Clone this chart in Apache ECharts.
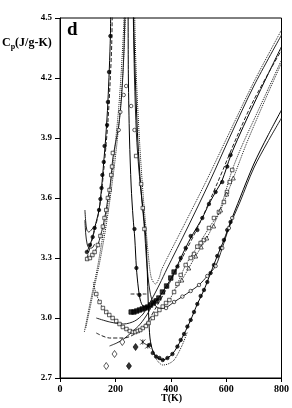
<!DOCTYPE html>
<html><head><meta charset="utf-8">
<script src="https://cdn.jsdelivr.net/npm/echarts@6/dist/echarts.min.js"></script>
<style>html,body{margin:0;padding:0;background:#fff}#c{width:292px;height:408px}</style>
</head><body><div id="c"></div>
<script>
// ---- data (T in K, Cp in J/g-K) ----
const xTicks = [0, 200, 400, 600, 800];
const yTicks = [2.7, 3.0, 3.3, 3.6, 3.9, 4.2, 4.5];

// series A: filled circles, solid fit
const A_dots = [[97,3.33],[108,3.365],[118,3.405],[125,3.45],[141,3.54],[146,3.595],[150,3.65],[153,3.715],[158,3.78],[161,3.86],[170,3.965],[173,4.08],[177,4.23],[182,4.41],[269,3.445],[276,3.25],[287,3.115],[424,3.257],[436,3.3],[454,3.35],[472,3.41],[496,3.44],[514,3.5],[538,3.57],[562,3.63],[586,3.68],[604,3.757],[616,3.815]];
const A_fit = [[97,3.33],[108,3.365],[118,3.405],[125,3.45],[141,3.54],[150,3.65],[158,3.78],[165,3.9],[173,4.08],[182,4.41],[187,4.9],[243,4.9],[247,4.2],[251,3.9],[257,3.66],[264,3.5],[270,3.4],[276,3.25],[283,3.15],[290,3.09],[300,3.06],[320,3.055],[350,3.09],[380,3.15],[410,3.22],[436,3.3],[472,3.4],[514,3.5],[538,3.57],[562,3.63],[586,3.69],[616,3.81],[650,3.92],[700,4.07],[750,4.215],[800,4.357]];
const A_fit2 = [[97,3.30],[110,3.36],[125,3.44],[140,3.53],[150,3.63],[158,3.74],[166,3.86],[173,3.98],[180,4.15],[187,4.38],[192,4.9]];
// filled squares band
const F_sq = [[257,3.03],[267,3.03],[277,3.035],[287,3.04],[297,3.045],[307,3.05],[317,3.055],[327,3.065],[337,3.075],[347,3.085],[357,3.1],[370,3.13],[385,3.16],[400,3.2],[412,3.23]];

// series B: open squares / open circles
const B_sqL = [[98,3.295],[108,3.3],[117,3.315],[125,3.33],[137,3.365],[146,3.41],[155,3.457],[161,3.5],[167,3.54],[173,3.6],[179,3.64],[185,3.715],[188,3.757],[191,3.825]];
const B_circ = [[212,3.94],[218,4.03],[230,4.115],[239,4.16],[257,4.06],[269,3.94],[383,3.05],[412,3.08],[442,3.107],[472,3.135],[502,3.165],[532,3.21],[562,3.26],[586,3.35],[610,3.45],[622,3.5]];
const B_sqR = [[275,3.81],[293,3.67],[299,3.55],[305,3.445]];
const B_fit = [[92,3.29],[98,3.295],[108,3.3],[125,3.33],[137,3.365],[146,3.41],[155,3.457],[161,3.5],[167,3.54],[173,3.6],[179,3.64],[185,3.715],[191,3.8],[200,3.87],[212,3.96],[222,4.1],[230,4.3],[236,4.6],[240,4.9],[262,4.9],[265,4.5],[269,4.2],[276,3.92],[285,3.74],[295,3.6],[305,3.445],[312,3.3],[320,3.18],[330,3.1],[345,3.06],[362,3.048],[383,3.052],[412,3.08],[442,3.107],[472,3.135],[502,3.165],[532,3.21],[562,3.26],[586,3.35],[610,3.45],[650,3.58],[700,3.75],[750,3.88],[800,4.0]];

// series C: open squares (low hook)
const C_sq = [[131,3.12],[143,3.08],[155,3.05],[167,3.03],[178,3.015],[190,3.0],[203,2.985],[215,2.97],[227,2.955],[240,2.945],[252,2.935],[263,2.93],[272,2.93],[281,2.935],[290,2.94],[299,2.95],[310,2.96],[320,2.975],[335,3.0],[347,3.02],[359,3.04],[371,3.057],[383,3.075],[395,3.09],[412,3.13],[424,3.17],[436,3.215],[454,3.265],[472,3.3],[484,3.32],[496,3.357],[508,3.375],[520,3.39],[538,3.45],[556,3.5],[574,3.53],[592,3.58],[603,3.63],[613,3.68],[622,3.74]];
const C_fit = [[120,3.18],[131,3.12],[155,3.05],[190,3.0],[227,2.955],[263,2.93],[290,2.94],[320,2.975],[347,3.02],[371,3.057],[395,3.09],[424,3.17],[454,3.265],[496,3.357],[538,3.45],[574,3.53],[622,3.74],[660,3.87],[700,3.99],[750,4.14],[800,4.29]];

// open triangles
const T_tri = [[440,3.19],[465,3.25],[490,3.31],[510,3.355],[530,3.40],[555,3.46],[580,3.54],[602,3.62],[626,3.70]];
const T_fit = [[420,3.15],[440,3.19],[490,3.31],[530,3.40],[580,3.54],[626,3.70],[670,3.86],[700,3.96],[750,4.12],[800,4.275]];

// series D: lowest, filled circles, solid fit
const D_dots = [[323,2.865],[335,2.825],[347,2.807],[359,2.8],[371,2.79],[388,2.8],[406,2.82],[424,2.857],[436,2.89],[448,2.92],[460,2.957],[472,2.99],[484,3.03],[496,3.07],[508,3.11],[520,3.14],[532,3.18],[544,3.225],[556,3.265],[568,3.31],[580,3.35],[592,3.39],[604,3.44],[616,3.48]];
const D_fit = [[264,4.9],[266,4.5],[272,4.2],[281,3.89],[292,3.65],[303,3.5],[311,3.38],[316,3.2],[320,3.02],[325,2.9],[335,2.835],[347,2.807],[359,2.795],[371,2.79],[388,2.8],[406,2.82],[424,2.857],[448,2.92],[472,2.99],[496,3.07],[520,3.14],[544,3.225],[568,3.31],[592,3.39],[616,3.48],[650,3.6],[700,3.77],[750,3.91],[800,4.04]];
const D_low = [[335,2.84],[350,2.79],[371,2.765],[390,2.77],[412,2.79],[440,2.86],[460,2.93]];

// other fit curves
const LD1 = [[88,2.93],[105,3.05],[120,3.15],[135,3.25],[150,3.37],[165,3.5],[180,3.64],[192,3.77],[201,3.89],[212,4.05],[222,4.25],[231,4.5],[234,4.9]];
const LD2 = [[93,2.95],[110,3.06],[125,3.16],[142,3.27],[158,3.39],[173,3.52],[187,3.66],[198,3.78],[207,3.89],[218,4.05],[228,4.25],[236,4.5],[239,4.9]];
const U1 = [[268,4.9],[270,4.5],[276,4.2],[287,3.89],[300,3.62],[311,3.44],[320,3.3],[330,3.2],[345,3.17],[358,3.2],[368,3.245],[450,3.47],[530,3.69],[606,3.91],[700,4.18],[800,4.44]];
const U2 = [[131,3.0],[180,2.98],[230,2.97],[270,2.985],[300,3.02],[330,3.09],[360,3.17],[386,3.245],[460,3.45],[540,3.68],[615,3.91],[700,4.16],[800,4.415]];
const U3 = [[131,2.925],[179,2.9],[230,2.9],[270,2.92],[310,2.97],[350,3.06],[390,3.16],[430,3.27],[500,3.46],[570,3.68],[640,3.91],[700,4.09],[800,4.34]];
const DiaFit = [[179,2.86],[205,2.875],[230,2.895],[260,2.93],[290,2.97],[320,3.03],[345,3.1]];
const Hflat = [[255,3.12],[312,3.12]];
const H1 = [[90,3.54],[93,3.48],[97,3.44],[104,3.43],[113,3.44],[125,3.46]];
const H2 = [[90,3.49],[93,3.42],[98,3.37],[105,3.35],[115,3.35],[125,3.37]];

// isolated markers
const Dia_open = [[167,2.76],[197,2.82],[225,2.88]];
const Dia_fill = [[249,2.76],[273,2.855]];
const Cross = [[299,2.88],[317,2.86]];

// ---- chart ----
const FONT = '"Liberation Serif", "DejaVu Serif", serif';
const chart = echarts.init(document.getElementById('c'), null, {renderer: 'canvas'});
function fit(data, type, color) {
  return {type: 'line', data: data, showSymbol: false, symbol: 'none', smooth: 0.3, clip: true,
    lineStyle: {color: color || '#222', width: 1, type: type || 'solid'}, z: 2, silent: true};
}
function pts(data, symbol, size, filled) {
  return {type: 'scatter', data: data, symbol: symbol, symbolSize: size, clip: true,
    itemStyle: {color: filled ? '#000' : '#fff', borderColor: '#000', borderWidth: 0.8}, z: 3, silent: true};
}
const crossPath = 'path://M0,0L10,10M10,0L0,10M5,0L5,10';
chart.setOption({
  animation: false,
  backgroundColor: '#fff',
  grid: {left: 60, top: 18, right: 9, bottom: 30, show: true, borderColor: '#000', borderWidth: 1},
  xAxis: {type: 'value', min: 0, max: 800, interval: 200,
    axisLine: {show: true, lineStyle: {color: '#000', width: 1}},
    axisTick: {show: true, inside: false, length: 4, lineStyle: {color: '#000'}},
    axisLabel: {color: '#000', fontFamily: FONT, fontWeight: 'bold', fontSize: 10, margin: 6,
      formatter: v => xTicks.includes(v) ? String(v) : ''},
    splitLine: {show: false}},
  yAxis: {type: 'value', min: 2.7, max: 4.5, interval: 0.3,
    axisLine: {show: true, lineStyle: {color: '#000', width: 1}},
    axisTick: {show: true, inside: false, length: 5, lineStyle: {color: '#000'}},
    axisLabel: {color: '#000', fontFamily: FONT, fontWeight: 'bold', fontSize: 9, margin: 8,
      formatter: v => v.toFixed(1)},
    splitLine: {show: false}},
  graphic: [
    {type: 'text', left: 67, top: 21, style: {text: 'd', font: 'bold 19px ' + FONT, fill: '#000'}},
    {type: 'text', left: 2, top: 37, style: {
      text: '{a|C}{b|p}{a|(J/g-K)}', fill: '#000',
      rich: {a: {font: 'bold 12px ' + FONT, fill: '#000'}, b: {font: 'bold 8px ' + FONT, fill: '#000', padding: [8, 0, 0, 0]}}}},
    {type: 'text', left: 161, top: 393, style: {text: 'T(K)', font: 'bold 10px ' + FONT, fill: '#000'}}
  ],
  series: [
    fit(A_fit, 'solid', '#000'), fit(A_fit2, 'dashed'), fit(B_fit, 'solid'), fit(C_fit, 'dotted'), fit(T_fit, 'dotted'),
    fit(D_fit, 'solid', '#000'), fit(D_low, 'dotted'), fit(LD1, 'dotted'), fit(LD2, 'dotted'),
    fit(U1, 'dotted'), fit(U2, 'solid'), fit(U3, 'dashed'), fit(DiaFit, 'solid'), fit(Hflat, 'dashed'),
    fit(H1, 'solid'), fit(H2, 'solid'),
    pts(A_dots, 'circle', 3.5, true), pts(F_sq, 'rect', 4.5, true), pts(D_dots, 'circle', 3.5, true),
    pts(B_sqL, 'rect', 3.5, false), pts(B_sqR, 'rect', 3.5, false), pts(B_circ, 'circle', 3.5, false),
    pts(C_sq, 'rect', 3.5, false), pts(T_tri, 'triangle', 4, false),
    pts(Dia_open, 'diamond', [5, 7], false), pts(Dia_fill, 'diamond', [5, 7], true),
    {type: 'scatter', data: Cross, symbol: crossPath, symbolSize: 5, itemStyle: {color: 'none', borderColor: '#000', borderWidth: 1}, z: 3, silent: true}
  ]
});
</script></body></html>
